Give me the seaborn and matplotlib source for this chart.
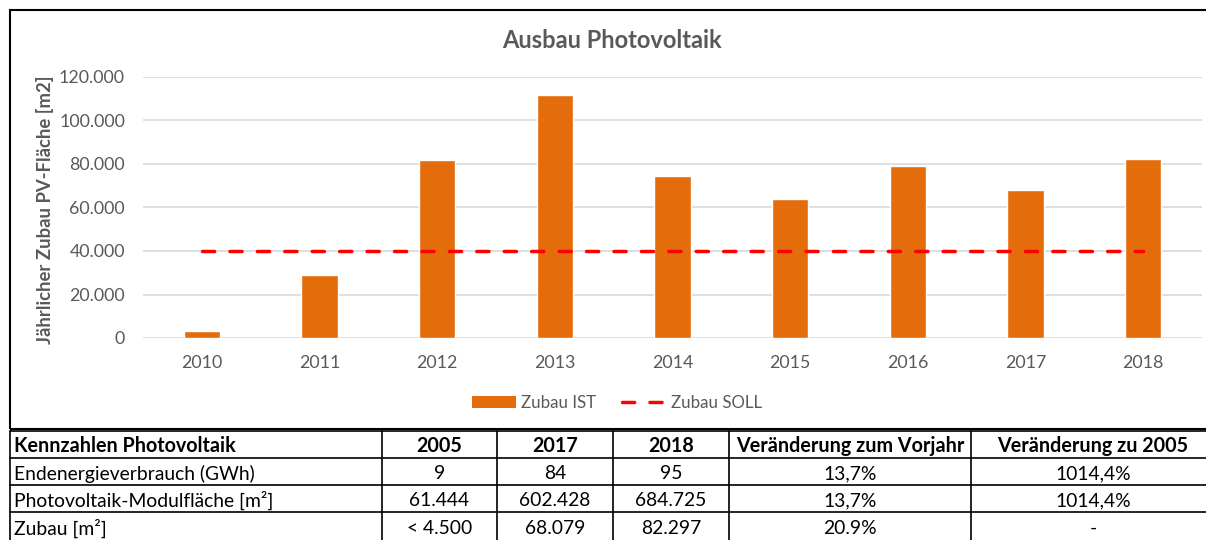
import numpy as np
import matplotlib
matplotlib.use("Agg")
import matplotlib.pyplot as plt
import seaborn as sns
from matplotlib.lines import Line2D
from matplotlib.patches import Patch, Rectangle

# ---------------- data ---------------- #
years = ["2010", "2011", "2012", "2013", "2014", "2015", "2016", "2017", "2018"]
zubau_ist = [3100, 28800, 81800, 111700, 74500, 63900, 79300, 68079, 82297]
zubau_soll = [40000] * len(years)

table_header = ["Kennzahlen Photovoltaik", "2005", "2017", "2018",
                "Veränderung zum Vorjahr", "Veränderung zu 2005"]
row_energie = ["Endenergieverbrauch (GWh)", "9", "84", "95", "13,7%", "1014,4%"]
row_flaeche = ["Photovoltaik-Modulfläche [m²]", "61.444", "602.428", "684.725", "13,7%", "1014,4%"]
row_zubau = ["Zubau [m²]", "< 4.500", "68.079", "82.297", "20.9%", "-"]

ORANGE = "#E46C0A"
RED = "#FF0000"
GREY = "#595959"
GRID = "#D9D9D9"

# ---------------- figure ---------------- #
sns.set_theme(style="white")
plt.rcParams["font.family"] = ["Lato", "DejaVu Sans"]

W, H = 1206, 540
fig = plt.figure(figsize=(W / 100, H / 100), dpi=100)


def fx(px):
    return px / W


def fy(py):
    return 1 - py / H


# chart frame
fig.patches.append(Rectangle((fx(10), fy(429)), fx(1215) - fx(10), fy(10) - fy(429),
                             transform=fig.transFigure, fill=False, lw=1.5,
                             edgecolor="black"))

ax = fig.add_axes([fx(143), fy(338), fx(1202) - fx(143), fy(77) - fy(338)])
sns.barplot(x=years, y=zubau_ist, color=ORANGE, width=0.31, saturation=1, ax=ax)
sns.lineplot(x=np.arange(len(years)), y=zubau_soll, color=RED, lw=2.5,
             dashes=False, ax=ax)
ax.lines[-1].set_dashes([3.5, 4.4])
ax.lines[-1].set_dash_capstyle("round")

ax.set_ylim(0, 120000)
ax.set_xlim(-0.5, len(years) - 0.5)
ax.set_yticks(np.arange(0, 120001, 20000))
ax.set_yticklabels(["0" if v == 0 else f"{v:,}".replace(",", ".")
                    for v in range(0, 120001, 20000)])
ax.yaxis.grid(True, color=GRID, lw=1.2)
ax.set_axisbelow(True)
for s in ax.spines.values():
    s.set_visible(False)
ax.tick_params(axis="y", length=0, pad=13, labelsize=12.8, labelcolor=GREY)
ax.tick_params(axis="x", length=0, pad=12, labelsize=12.8, labelcolor=GREY)
ax.set_xlabel("")
ax.set_ylabel("")

fig.text(fx(612), fy(40), "Ausbau Photovoltaik", ha="center", va="center",
         fontsize=17, fontweight="bold", color=GREY)
fig.text(fx(45), fy(210), "Jährlicher Zubau PV-Fläche [m2]", ha="center",
         va="center", rotation=90, fontsize=13.3, fontweight="bold", color=GREY)

handles = [Patch(facecolor=ORANGE, edgecolor="none"),
           Line2D([0], [0], color=RED, lw=2.5, dashes=[3.5, 4.4],
                  dash_capstyle="round")]
fig.legend(handles, ["Zubau IST", "Zubau SOLL"], loc="center",
           bbox_to_anchor=(fx(617), fy(403)), ncol=2, frameon=False,
           fontsize=12.2, labelcolor=GREY, handlelength=2.6, columnspacing=1.5,
           handletextpad=0.3)

# ---------------- table ---------------- #
col_edges = [10, 382, 497, 613, 729, 971, 1215]
row_edges = [431, 458, 485, 512, 540]
rows = [table_header, row_energie, row_flaeche, row_zubau]

for y in row_edges[:-1]:
    fig.add_artist(Line2D([fx(10), fx(1215)], [fy(y), fy(y)], color="black", lw=1.2))
for x in col_edges:
    fig.add_artist(Line2D([fx(x), fx(x)], [fy(row_edges[0]), fy(545)], color="black", lw=1.2))

for r, row in enumerate(rows):
    yc = (row_edges[r] + row_edges[r + 1]) / 2
    for c, txt in enumerate(row):
        if c == 0:
            xpos, ha = col_edges[0] + 4, "left"
        else:
            xpos, ha = (col_edges[c] + col_edges[c + 1]) / 2, "center"
        fig.text(fx(xpos), fy(yc + 2), txt, ha=ha, va="center",
                 fontsize=14.2 if r == 0 else 13.9,
                 fontweight="bold" if r == 0 else "normal", color="black")

fig.savefig("out.png", dpi=100)
